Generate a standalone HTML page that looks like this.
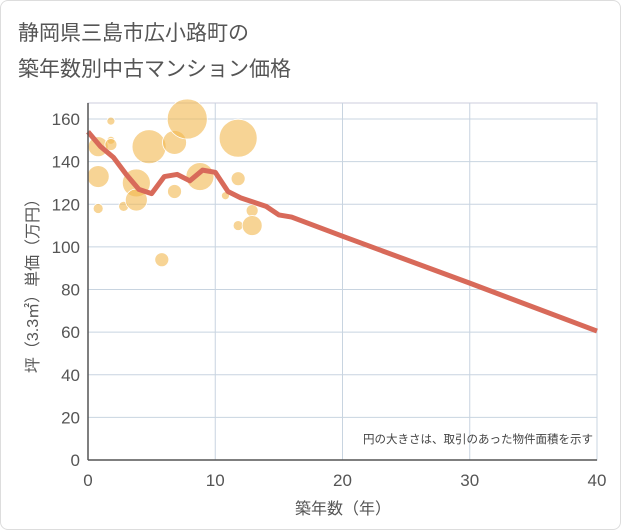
<!DOCTYPE html>
<html><head><meta charset="utf-8"><style>
body{margin:0;background:#fff;font-family:"Liberation Sans","Noto Sans CJK JP",sans-serif;}
#wrap{position:relative;width:619px;height:528px;border:1px solid #ddd;border-radius:8px;background:#fff;overflow:hidden}
</style></head><body>
<div id="wrap">
<svg id="chart" width="621" height="530" style="position:absolute;left:-1px;top:-1px">
<text x="18" y="40" font-size="21" fill="#555" font-family="Liberation Sans,Noto Sans CJK JP,sans-serif">静岡県三島市広小路町の</text>
<text x="18" y="76" font-size="21" fill="#555" font-family="Liberation Sans,Noto Sans CJK JP,sans-serif">築年数別中古マンション価格</text>
<g id="grid"></g><g id="bubbles"></g><g id="line"></g><g id="axes"></g>
<text x="593" y="443" font-size="11.5" fill="#444" text-anchor="end" font-family="Liberation Sans,Noto Sans CJK JP,sans-serif">円の大きさは、取引のあった物件面積を示す</text>
<text x="343" y="514" font-size="16" fill="#555" text-anchor="middle" font-family="Liberation Sans,Noto Sans CJK JP,sans-serif">築年数（年）</text>
<text transform="translate(38,282) rotate(-90)" font-size="16" fill="#555" text-anchor="middle" font-family="Liberation Sans,Noto Sans CJK JP,sans-serif">坪（3.3㎡）単価（万円）</text>
</svg></div>
<script>
const xTicks=[0,10,20,30,40];
const yTicks=[0,20,40,60,80,100,120,140,160];
const bubbleX=[0.8,1.8,1.8,1.8,0.8,0.8,2.8,3.8,3.8,4.8,6.8,6.8,7.8,8.8,5.8,11.8,11.8,10.8,12.9,11.8,12.9];
const bubbleY=[147,159,150,148,133,118,119,130,122,147,149,126,160,133,94,151,132,124,117,110,110];
const bubbleR=[10,4,4,6,11,5,5,14,11,17,12,7,20,14,7,19,7,4,6,5,10];
const lineX=[0,1,2,3,4,5,6,7,8,9,10,11,12,13,14,15,16,20,30,40];
const lineY=[154,147,142,134,127,125,133,134,131,136,135,126,123,121,119,115,114,105,83,60.5];
const X0=88,X1=597,Y0=460,YTOP=103;
const xs=v=>X0+(v/40)*(X1-X0);
const ys=v=>Y0-v*(460-119)/160;
const NS="http://www.w3.org/2000/svg";
function mk(tag,attrs,parent){const e=document.createElementNS(NS,tag);for(const k in attrs)e.setAttribute(k,attrs[k]);parent.appendChild(e);return e;}
const grid=document.getElementById('grid'),axes=document.getElementById('axes');
const bg=mk('rect',{x:X0,y:YTOP,width:X1-X0,height:Y0-YTOP,fill:'#fff',stroke:'#ccd',"stroke-width":1},grid);


yTicks.forEach(t=>{
const l=mk('line',{x1:X0,x2:X1,y1:ys(t),y2:ys(t),stroke:'#c8d4e0',"stroke-width":1},grid);


const tx=mk('text',{x:X0-8,y:ys(t)+6,"font-size":17,fill:'#555',"text-anchor":'end'},axes);
tx.textContent=t;


});
xTicks.forEach(t=>{
const l=mk('line',{x1:xs(t),x2:xs(t),y1:YTOP,y2:Y0,stroke:'#c8d4e0',"stroke-width":1},grid);


const tx=mk('text',{x:xs(t),y:Y0+26,"font-size":17,fill:'#555',"text-anchor":'middle'},axes);
tx.textContent=t;


});
const ax=mk('line',{x1:X0,x2:X1,y1:Y0,y2:Y0,stroke:'#555',"stroke-width":1.5},axes);


const ay=mk('line',{x1:X0,x2:X0,y1:YTOP,y2:Y0,stroke:'#555',"stroke-width":1.5},axes);


const bub=document.getElementById('bubbles');
bubbleX.forEach((x,i)=>{
const c=mk('circle',{cx:xs(x),cy:ys(bubbleY[i]),r:bubbleR[i],fill:'#f2b84e',"fill-opacity":0.6,stroke:'#fff',"stroke-width":0.8},bub);


});
const p=mk('polyline',{points:lineX.map((x,i)=>xs(x)+','+ys(lineY[i])).join(' '),fill:'none',stroke:'#d86a5a',"stroke-width":5,"stroke-linejoin":'round'},document.getElementById('line'));


</script>
</body></html>
